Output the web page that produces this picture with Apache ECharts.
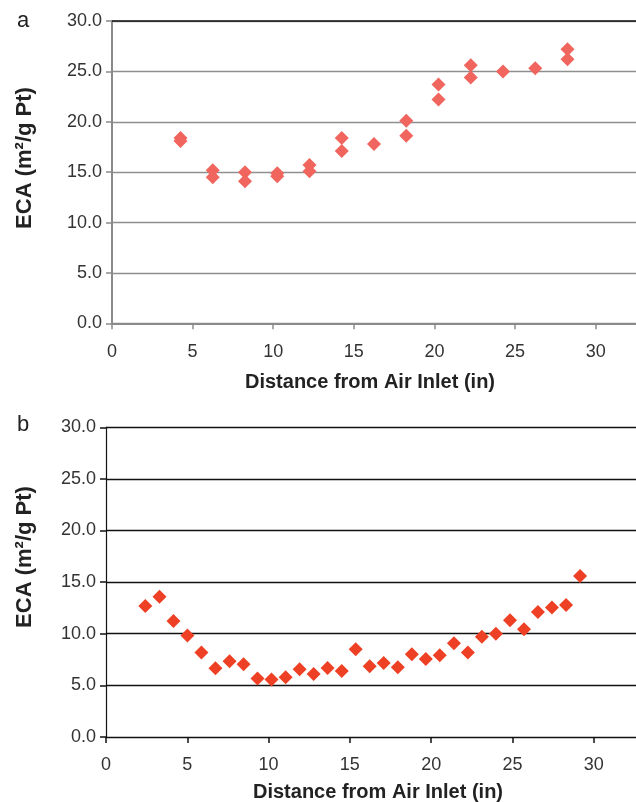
<!DOCTYPE html>
<html>
<head>
<meta charset="utf-8">
<script src="https://cdn.jsdelivr.net/npm/echarts@6/dist/echarts.min.js"></script>
<style>html,body{margin:0;padding:0;background:#fff;}#c{width:636px;height:802px;}</style>
</head>
<body>
<div id="c"></div>
<script>
// Panel a data
var aX = [4.25,4.25,6.25,6.25,8.25,8.25,10.25,10.25,12.25,12.25,14.25,14.25,16.25,18.25,18.25,20.25,20.25,22.25,22.25,24.25,26.25,28.25,28.25];
var aY = [18.4,18.1,15.2,14.5,15.0,14.1,14.9,14.6,15.7,15.1,18.4,17.1,17.8,20.1,18.6,23.7,22.2,25.6,24.4,25.0,25.3,27.2,26.2];
// Panel b data
var bX = [2.42,3.29,4.15,5.01,5.87,6.73,7.60,8.46,9.32,10.18,11.05,11.91,12.77,13.63,14.50,15.36,16.22,17.08,17.95,18.81,19.67,20.53,21.40,22.26,23.12,23.98,24.85,25.71,26.57,27.43,28.30,29.16];
var bY = [12.68,13.59,11.23,9.83,8.19,6.65,7.32,7.03,5.67,5.55,5.77,6.55,6.10,6.68,6.39,8.49,6.84,7.16,6.74,8.00,7.55,7.91,9.07,8.19,9.70,9.99,11.30,10.42,12.10,12.55,12.78,15.60];
var xTicks = [0,5,10,15,20,25,30];
var xTitle = 'Distance from Air Inlet (in)';
var yTitle = 'ECA (m\u00b2/g Pt)';

function zip(xs, ys){ return xs.map(function(x,i){ return [x, ys[i]]; }); }

var chart = echarts.init(document.getElementById('c'), null, {renderer:'canvas'});
var labelFont = {fontFamily:'Liberation Sans, Arial, sans-serif', fontSize:18};
function xAxisCfg(gi, max, col, lab, margin){
  return {
    gridIndex: gi, type:'value', min:0, max:max,
    axisLine:{show:true, onZero:false, lineStyle:{color:col, width: gi===0?2:1.2}},
    axisTick:{show:true, inside:false, length:6, customValues:xTicks, lineStyle:{color:col, width:1.5}},
    axisLabel:{show:true, customValues:xTicks, margin:margin, color:lab, fontFamily:labelFont.fontFamily, fontSize:labelFont.fontSize},
    splitLine:{show:false}
  };
}
function yAxisCfg(gi, col, gridCol, gridW, lab){
  return {
    gridIndex: gi, type:'value', min:0, max:30, interval:5,
    axisLine:{show:true, lineStyle:{color:col, width: gi===0?2:1.2}},
    axisTick:{show:true, inside:false, length:6, lineStyle:{color:col, width:1.5}},
    axisLabel:{show:true, margin:10, color:lab, fontFamily:labelFont.fontFamily, fontSize:labelFont.fontSize,
      formatter:function(v){ return v.toFixed(1); }},
    splitLine:{show:true, lineStyle:{color:gridCol, width:gridW}}
  };
}
var titleFont = 'bold 20px "Liberation Sans", Arial, sans-serif';
var yTitleFont = 'bold 22px "Liberation Sans", Arial, sans-serif';
chart.setOption({
  animation:false,
  backgroundColor:'#ffffff',
  grid:[
    {left:112, top:21, width:524, height:302.3, containLabel:false},
    {left:106, top:427.3, width:530, height:309.6, containLabel:false}
  ],
  xAxis:[ xAxisCfg(0, 32.5, '#8a8a8a', '#333333', 20), xAxisCfg(1, 32.6, '#111111', '#333333', 19) ],
  yAxis:[ yAxisCfg(0, '#8a8a8a', '#8f8f8f', 1.4, '#333333'), yAxisCfg(1, '#111111', '#111111', 1.4, '#333333') ],
  series:[
    {type:'scatter', xAxisIndex:0, yAxisIndex:0, data:zip(aX,aY), symbol:'diamond', symbolSize:14,
      itemStyle:{color:'#F0655D', opacity:1},
      markLine:{silent:true, symbol:'none', label:{show:false}, lineStyle:{color:'#111111', type:'solid', width:1.6}, data:[{yAxis:30}]}},
    {type:'scatter', xAxisIndex:1, yAxisIndex:1, data:zip(bX,bY), symbol:'diamond', symbolSize:14,
      itemStyle:{color:'#EE4024', opacity:1}}
  ],
  graphic:[
    {type:'text', x:23, y:21, style:{text:'a', font:'22px "Liberation Sans", Arial, sans-serif', fill:'#222', align:'center', verticalAlign:'middle'}},
    {type:'text', x:23, y:425, style:{text:'b', font:'22px "Liberation Sans", Arial, sans-serif', fill:'#222', align:'center', verticalAlign:'middle'}},
    {type:'text', x:370, y:382, style:{text:xTitle, font:titleFont, fill:'#222', align:'center', verticalAlign:'middle'}},
    {type:'text', x:378, y:792, style:{text:xTitle, font:titleFont, fill:'#222', align:'center', verticalAlign:'middle'}},
    {type:'text', x:25, y:158, rotation:Math.PI/2, style:{text:yTitle, font:yTitleFont, fill:'#222', align:'center', verticalAlign:'middle'}},
    {type:'text', x:25, y:557, rotation:Math.PI/2, style:{text:yTitle, font:yTitleFont, fill:'#222', align:'center', verticalAlign:'middle'}}
  ]
});
</script>
</body>
</html>
